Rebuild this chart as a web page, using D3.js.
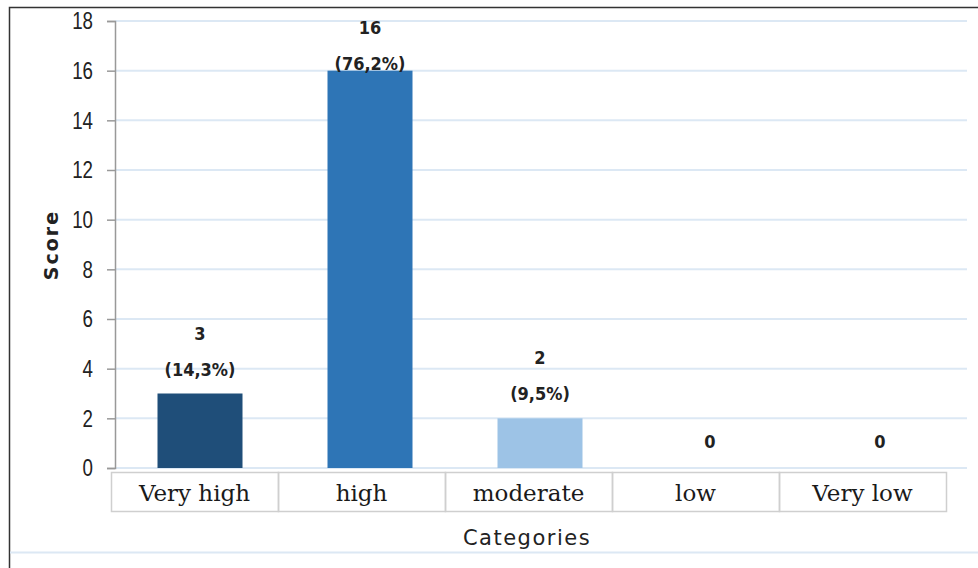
<!DOCTYPE html>
<html>
<head>
<meta charset="utf-8">
<script src="https://cdn.jsdelivr.net/npm/d3@7"></script>
<style>
  body { margin: 0; background: #fff; }
  svg { display: block; }
</style>
</head>
<body>
<div id="container"></div>
<script>
const categories = ['Very high', 'high', 'moderate', 'low', 'Very low'];
const scores = [3, 16, 2, 0, 0];
const percents = ['(14,3%)', '(76,2%)', '(9,5%)', '', ''];
const yTicks = [0, 2, 4, 6, 8, 10, 12, 14, 16, 18];
const barColors = ['#1f4e79', '#2e75b6', '#9dc3e6', '#9dc3e6', '#9dc3e6'];

const W = 978, H = 568;

const svg = d3.select('#container')
    .append('svg')
    .attr('width', W)
    .attr('height', H);

// outer frame (left + top)
svg.append('path')
    .attr('d', `M9.5,${H} V7.5 H${W}`)
    .attr('fill', 'none')
    .attr('stroke', '#333')
    .attr('stroke-width', 1.5);

svg.append('line')
    .attr('x1', 10).attr('x2', W)
    .attr('y1', 552.5).attr('y2', 552.5)
    .attr('stroke', '#dce8f4')
    .attr('stroke-width', 2);

const x = d3.scaleBand()
    .domain(categories)
    .range([115, 965])
    .paddingInner(0.5)
    .paddingOuter(0.25);

const y = d3.scaleLinear()
    .domain([0, 18])
    .range([468, 21]);

// gridlines
svg.append('g')
    .selectAll('line')
    .data(yTicks)
    .join('line')
    .attr('x1', 115).attr('x2', 967)
    .attr('y1', d => y(d)).attr('y2', d => y(d))
    .attr('stroke', '#dce8f4')
    .attr('stroke-width', 2);

// y axis
const squeeze = 0.78;
const yAxis = svg.append('g')
    .attr('transform', 'translate(115,0)')
    .call(d3.axisLeft(y).tickValues(yTicks).tickSize(8).tickPadding(14));

yAxis.select('.domain').attr('stroke', '#999').attr('stroke-width', 1.5);
yAxis.selectAll('.tick line').attr('stroke', '#999').attr('stroke-width', 1.5);
yAxis.selectAll('.tick text')
    .attr('fill', '#222')
    .attr('x', -22 / squeeze)
    .attr('transform', `scale(${squeeze},1)`)
    .style('font-family', '"Liberation Sans", Arial, sans-serif')
    .style('font-size', '24px');

// bars
svg.append('g')
    .selectAll('rect')
    .data(scores)
    .join('rect')
    .attr('x', (d, i) => x(categories[i]))
    .attr('y', d => y(d))
    .attr('width', x.bandwidth())
    .attr('height', d => y(0) - y(d))
    .attr('fill', (d, i) => barColors[i]);

// value labels
const labels = svg.append('g')
    .style('font-family', '"DejaVu Sans Condensed", "DejaVu Sans", sans-serif')
    .style('font-size', '18px')
    .style('font-weight', 'bold')
    .attr('fill', '#222')
    .attr('text-anchor', 'middle');

scores.forEach((d, i) => {
    const cx = x(categories[i]) + x.bandwidth() / 2;
    // keep labels inside the top of the plot
    const line2 = Math.max(y(d) - 18, 70);
    if (percents[i]) {
        labels.append('text')
            .attr('x', cx).attr('y', line2)
            .text(percents[i]);
        labels.append('text')
            .attr('x', cx).attr('y', line2 - 36)
            .text(d);
    } else {
        labels.append('text')
            .attr('x', cx).attr('y', y(d) - 20)
            .text(d);
    }
});

// category table
const cell = d3.scaleBand()
    .domain(categories)
    .range([111, 946]);

const table = svg.append('g');
table.selectAll('rect')
    .data(categories)
    .join('rect')
    .attr('x', d => cell(d) + 0.5)
    .attr('y', 472.5)
    .attr('width', cell.bandwidth())
    .attr('height', 39)
    .attr('fill', 'none')
    .attr('stroke', '#cfcfcf')
    .attr('stroke-width', 1.5);

table.selectAll('text')
    .data(categories)
    .join('text')
    .attr('x', d => cell(d) + cell.bandwidth() / 2)
    .attr('y', 501)
    .attr('text-anchor', 'middle')
    .attr('fill', '#1a1a1a')
    .style('font-family', '"DejaVu Serif", "Liberation Serif", serif')
    .style('font-size', '23px')
    .text(d => d);

// axis titles
svg.append('text')
    .attr('x', 527)
    .attr('y', 545)
    .attr('text-anchor', 'middle')
    .attr('fill', '#222')
    .style('font-family', '"DejaVu Sans", sans-serif')
    .style('font-size', '21px')
    .style('letter-spacing', '1.5px')
    .text('Categories');

svg.append('text')
    .attr('transform', 'translate(58,245) rotate(-90)')
    .attr('text-anchor', 'middle')
    .attr('fill', '#222')
    .style('font-family', '"DejaVu Sans", sans-serif')
    .style('font-size', '19px')
    .style('font-weight', 'bold')
    .style('letter-spacing', '2px')
    .text('Score');
</script>
</body>
</html>
